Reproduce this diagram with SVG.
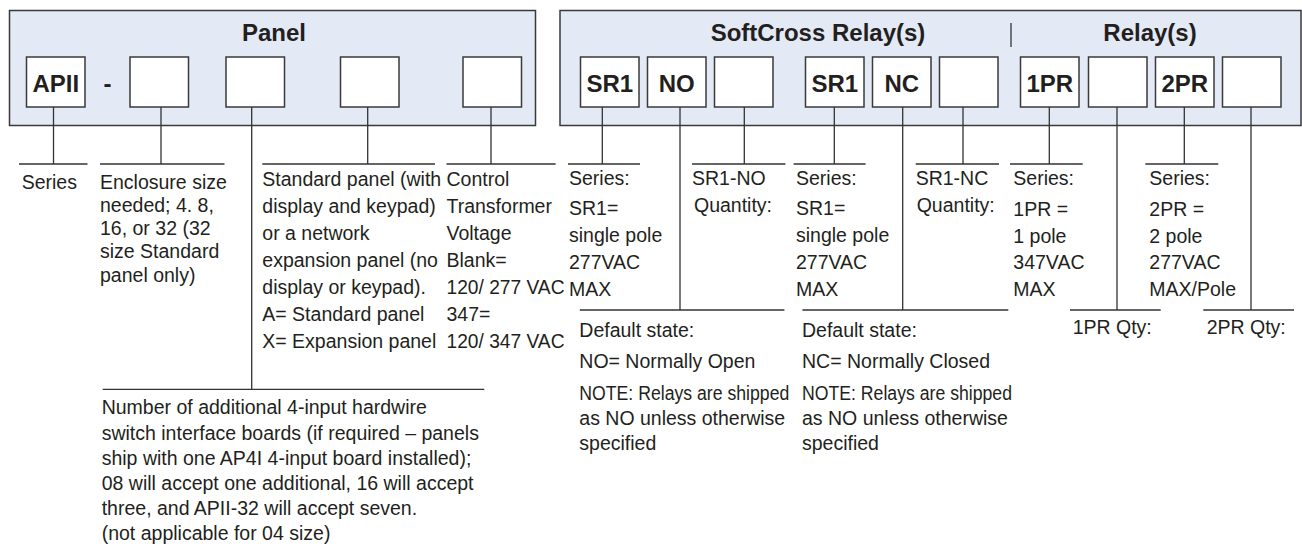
<svg xmlns="http://www.w3.org/2000/svg" width="1302" height="548" viewBox="0 0 1302 548">
<style>
.grp{fill:#e3eaf5;stroke:#3a3a3a;stroke-width:1.5}
.box{fill:#fff;stroke:#3a3a3a;stroke-width:1.5}
.hd{font-family:"Liberation Sans",Arial,sans-serif;font-weight:bold;font-size:24px;fill:#231f20;text-anchor:middle}
.t{font-family:"Liberation Sans",Arial,sans-serif;font-size:19.5px;fill:#231f20}
.ln{stroke:#333;stroke-width:1.3;fill:none}
</style>
<rect width="1302" height="548" fill="#fff"/>
<g id="panel">
<rect class="grp" x="9.5" y="10.5" width="526" height="115"/>
<text class="hd" x="274" y="41">Panel</text>
<rect class="box" x="26.5" y="57" width="58.5" height="50"/>
<text class="hd" x="55.75" y="91.5">APII</text>
<text class="hd" x="107.5" y="91.5">-</text>
<rect class="box" x="130" y="57" width="58.5" height="50"/>
<rect class="box" x="226" y="57" width="58.5" height="50"/>
<rect class="box" x="340.5" y="57" width="58.5" height="50"/>
<rect class="box" x="463" y="57" width="58.5" height="50"/>
</g>
<g id="relays">
<rect class="grp" x="560" y="10.5" width="741" height="115"/>
<text class="hd" x="818" y="41">SoftCross Relay(s)</text>
<line class="ln" x1="1011" y1="23" x2="1011" y2="47"/>
<text class="hd" x="1150" y="41">Relay(s)</text>
<rect class="box" x="580.5" y="57" width="58.5" height="50"/>
<text class="hd" x="609.75" y="91.5">SR1</text>
<rect class="box" x="647.5" y="57" width="58.5" height="50"/>
<text class="hd" x="676.75" y="91.5">NO</text>
<rect class="box" x="714.5" y="57" width="58.5" height="50"/>
<rect class="box" x="805.5" y="57" width="58.5" height="50"/>
<text class="hd" x="834.75" y="91.5">SR1</text>
<rect class="box" x="872.5" y="57" width="58.5" height="50"/>
<text class="hd" x="901.75" y="91.5">NC</text>
<rect class="box" x="939.5" y="57" width="58.5" height="50"/>
<rect class="box" x="1020.5" y="57" width="58.5" height="50"/>
<text class="hd" x="1049.75" y="91.5">1PR</text>
<rect class="box" x="1088.5" y="57" width="58.5" height="50"/>
<rect class="box" x="1155.5" y="57" width="58.5" height="50"/>
<text class="hd" x="1184.75" y="91.5">2PR</text>
<rect class="box" x="1222.5" y="57" width="58.5" height="50"/>
</g>
<g id="connectors" class="ln">
<path d="M53.5 107V164M19 164H87.5"/>
<path d="M161 107V164M100 164H224.5"/>
<path d="M251.7 107V389.3M102.7 389.3H484.3"/>
<path d="M367.7 107V164M262.3 164H435"/>
<path d="M491 107V164M446.5 164H555.6"/>
<path d="M602.3 107V164M568 164H640"/>
<path d="M680 107V310M579.8 310H784.4"/>
<path d="M744.3 107V164M692 164H785.4"/>
<path d="M834.3 107V164M793.6 164H865.6"/>
<path d="M902.7 107V310M802.4 310H1008.3"/>
<path d="M963 107V164M915.7 164H999"/>
<path d="M1049.3 107V164M1010 164H1082.7"/>
<path d="M1117 107V310M1070 310H1160.7"/>
<path d="M1184.3 107V164M1145.3 164H1218.3"/>
<path d="M1251 107V310M1203.3 310H1294"/>
</g>
<g id="label-series">
<text class="t" x="21.7" y="188.5">Series</text>
</g>
<g id="label-enclosure">
<text class="t" x="100" y="188.5">Enclosure size</text>
<text class="t" x="100" y="211.8">needed; 4. 8,</text>
<text class="t" x="100" y="235.1">16, or 32 (32</text>
<text class="t" x="100" y="258.4">size Standard</text>
<text class="t" x="100" y="281.7">panel only)</text>
</g>
<g id="label-boards">
<text class="t" x="101.7" y="414.3">Number of additional 4-input hardwire</text>
<text class="t" x="101.7" y="439.5">switch interface boards (if required – panels</text>
<text class="t" x="101.7" y="464.7">ship with one AP4I 4-input board installed);</text>
<text class="t" x="101.7" y="489.9">08 will accept one additional, 16 will accept</text>
<text class="t" x="101.7" y="515.1">three, and APII-32 will accept seven.</text>
<text class="t" x="101.7" y="540.3">(not applicable for 04 size)</text>
</g>
<g id="label-standard">
<text class="t" x="262.3" y="186">Standard panel (with</text>
<text class="t" x="262.3" y="213">display and keypad)</text>
<text class="t" x="262.3" y="240">or a network</text>
<text class="t" x="262.3" y="267">expansion panel (no</text>
<text class="t" x="262.3" y="294">display or keypad).</text>
<text class="t" x="262.3" y="321">A= Standard panel</text>
<text class="t" x="262.3" y="348">X= Expansion panel</text>
</g>
<g id="label-control">
<text class="t" x="446.5" y="186">Control</text>
<text class="t" x="446.5" y="213">Transformer</text>
<text class="t" x="446.5" y="240">Voltage</text>
<text class="t" x="446.5" y="267">Blank=</text>
<text class="t" x="446.5" y="294" textLength="118" lengthAdjust="spacingAndGlyphs">120/ 277 VAC</text>
<text class="t" x="446.5" y="321">347=</text>
<text class="t" x="446.5" y="348" textLength="118" lengthAdjust="spacingAndGlyphs">120/ 347 VAC</text>
</g>
<g id="label-sr1-no-series">
<text class="t" x="569" y="185">Series:</text>
<text class="t" x="569" y="215">SR1=</text>
<text class="t" x="569" y="242">single pole</text>
<text class="t" x="569" y="268.5">277VAC</text>
<text class="t" x="569" y="295.5">MAX</text>
</g>
<g id="label-no-qty">
<text class="t" x="692" y="185">SR1-NO</text>
<text class="t" x="694" y="212">Quantity:</text>
</g>
<g id="label-no-default">
<text class="t" x="579.3" y="337">Default state:</text>
<text class="t" x="579.3" y="368">NO= Normally Open</text>
<text class="t" x="579.3" y="400" textLength="210" lengthAdjust="spacingAndGlyphs">NOTE: Relays are shipped</text>
<text class="t" x="579.3" y="425">as NO unless otherwise</text>
<text class="t" x="579.3" y="450">specified</text>
</g>
<g id="label-sr1-nc-series">
<text class="t" x="796" y="185">Series:</text>
<text class="t" x="796" y="215">SR1=</text>
<text class="t" x="796" y="242">single pole</text>
<text class="t" x="796" y="268.5">277VAC</text>
<text class="t" x="796" y="295.5">MAX</text>
</g>
<g id="label-nc-qty">
<text class="t" x="915.7" y="185">SR1-NC</text>
<text class="t" x="916.7" y="212">Quantity:</text>
</g>
<g id="label-nc-default">
<text class="t" x="802" y="337">Default state:</text>
<text class="t" x="802" y="368">NC= Normally Closed</text>
<text class="t" x="802" y="400" textLength="210" lengthAdjust="spacingAndGlyphs">NOTE: Relays are shipped</text>
<text class="t" x="802" y="425">as NO unless otherwise</text>
<text class="t" x="802" y="450">specified</text>
</g>
<g id="label-1pr">
<text class="t" x="1013.3" y="185">Series:</text>
<text class="t" x="1013.3" y="216">1PR =</text>
<text class="t" x="1013.3" y="242.5">1 pole</text>
<text class="t" x="1013.3" y="268.5">347VAC</text>
<text class="t" x="1013.3" y="295.5">MAX</text>
</g>
<g id="label-1pr-qty">
<text class="t" x="1072.7" y="334">1PR Qty:</text>
</g>
<g id="label-2pr">
<text class="t" x="1149.3" y="185">Series:</text>
<text class="t" x="1149.3" y="216">2PR =</text>
<text class="t" x="1149.3" y="242.5">2 pole</text>
<text class="t" x="1149.3" y="268.5">277VAC</text>
<text class="t" x="1149.3" y="295.5">MAX/Pole</text>
</g>
<g id="label-2pr-qty">
<text class="t" x="1206.7" y="334">2PR Qty:</text>
</g>
</svg>
